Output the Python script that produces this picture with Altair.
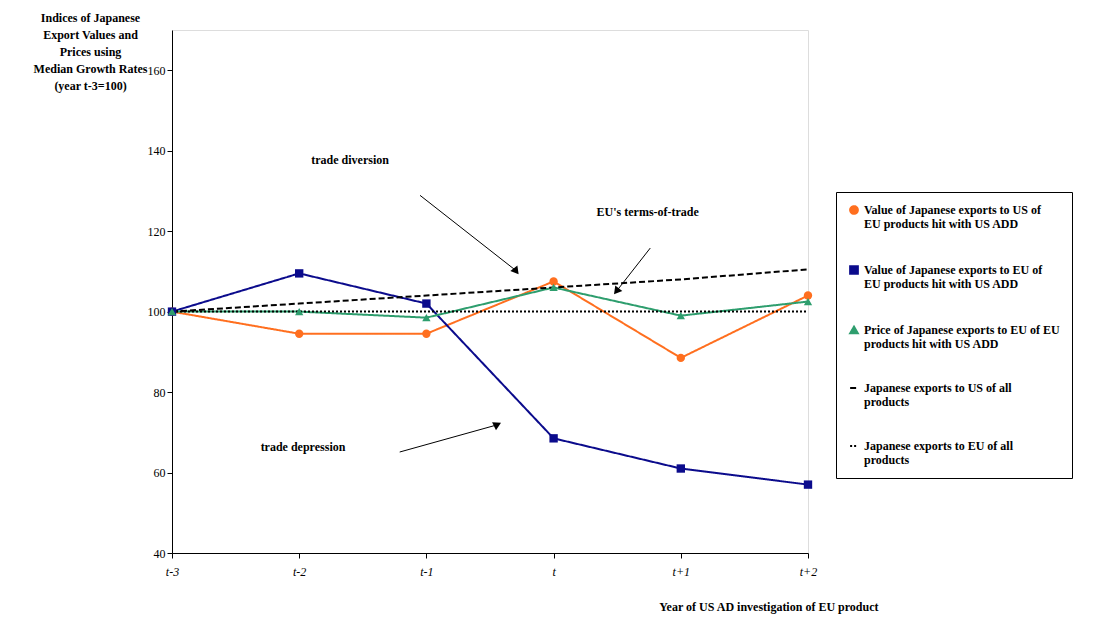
import altair as alt
import pandas as pd

PERIODS = ["t-3", "t-2", "t-1", "t", "t+1", "t+2"]
SERIES = [
    "Value of Japanese exports to US of|EU products hit with US ADD",
    "Value of Japanese exports to EU of|EU products hit with US ADD",
    "Price of Japanese exports to EU of EU|products hit with US ADD",
    "Japanese exports to US of all|products",
    "Japanese exports to EU of all|products",
]
VAL_US = [100, 94.5, 94.5, 107.5, 88.5, 104]
VAL_EU = [100, 109.5, 102, 68.5, 61, 57]
PRICE_EU = [100, 100, 98.5, 106, 99, 102.5]
ALL_US = [100, 102, 104, 106, 108, 110.5]
ALL_EU = [100, 100, 100, 100, 100, 100]
COLORS = ["#ff6f1f", "#0b0b8c", "#2e9e6e", "#000000", "#000000"]
SHAPES = ["circle", "square", "triangle-up", "stroke", "stroke"]
DASHES = [[1, 0], [1, 0], [1, 0], [6, 3], [2, 2]]

rows = []
for name, vals in zip(SERIES, [VAL_US, VAL_EU, PRICE_EU, ALL_US, ALL_EU]):
    for i, v in enumerate(vals):
        rows.append({"series": name, "i": i, "v": v})
df = pd.DataFrame(rows)

# annotations (data units)
notes = pd.DataFrame({
    "x": [1.40, 3.74, 1.03],
    "y": [137.6, 124.7, 66.3],
    "label": ["trade diversion", "EU's terms-of-trade", "trade depression"],
})
arrows = pd.DataFrame({
    "x": [1.95, 3.76, 1.79], "y": [128.9, 115.8, 65.1],
    "x2": [2.70, 3.50, 2.55], "y2": [110.3, 105.3, 71.8],
    "ang": [142, 218, 64],
})

FONT = "Liberation Serif"
xs = alt.Scale(domain=[0, 5], nice=False)
ys = alt.Scale(domain=[40, 170], nice=False)
col = alt.Color("series:N", scale=alt.Scale(domain=SERIES, range=COLORS),
                legend=alt.Legend(title=None, orient="none", legendX=664, legendY=162,
                                  labelExpr="split(datum.label, '|')",
                                  labelFont=FONT, labelFontSize=12, labelFontWeight="bold",
                                  labelLimit=300, symbolSize=60, symbolStrokeWidth=2,
                                  rowPadding=32, strokeColor="black", padding=12))

ax_common = dict(labelFont=FONT, labelFontSize=12, titleFont=FONT, titleFontSize=12,
                 titleFontWeight="bold", domainColor="black", tickColor="black",
                 labelColor="black", titleColor="black", grid=False, labelFlush=False)
x_enc = alt.X("i:Q", scale=xs, title="Year of US AD investigation of EU product",
              axis=alt.Axis(values=list(range(6)), labelExpr=str(PERIODS) + "[datum.value]",
                            labelFontStyle="italic", labelPadding=8,
                            titleAnchor="end", titleAlign="right", titleX=706, titleY=48,
                            **ax_common))
y_enc = alt.Y("v:Q", scale=ys, axis=alt.Axis(
    values=[40, 60, 80, 100, 120, 140, 160],
    title=["Indices of Japanese", "Export Values and", "Prices using",
           "Median Growth Rates", "(year t-3=100)"],
    titleAngle=0, titleAlign="center", titleBaseline="top", titleX=-82, titleY=-18,
    titleLineHeight=17, **ax_common))

lines = alt.Chart(df).mark_line(strokeWidth=2).encode(
    x=x_enc, y=y_enc, color=col,
    strokeDash=alt.StrokeDash("series:N", scale=alt.Scale(domain=SERIES, range=DASHES), legend=None),
    shape=alt.Shape("series:N", scale=alt.Scale(domain=SERIES, range=SHAPES), legend=None),
)
pts = alt.Chart(df[df.series.isin(SERIES[:3])]).mark_point(filled=True, size=70, opacity=1).encode(
    x="i:Q", y="v:Q", color=alt.Color("series:N", scale=alt.Scale(domain=SERIES, range=COLORS), legend=None),
    shape=alt.Shape("series:N", scale=alt.Scale(domain=SERIES, range=SHAPES), legend=None),
)
txt = alt.Chart(notes).mark_text(font=FONT, fontSize=12, fontWeight="bold").encode(
    x="x:Q", y="y:Q", text="label:N")
shafts = alt.Chart(arrows).mark_rule(color="black", strokeWidth=1).encode(
    x="x:Q", y="y:Q", x2="x2:Q", y2="y2:Q")
heads = alt.Chart(arrows).mark_point(shape="triangle", filled=True, color="black", size=80, opacity=1).encode(
    x="x2:Q", y="y2:Q", angle=alt.Angle("ang:Q", scale=None))

chart = alt.layer(lines, pts, shafts, heads, txt).properties(
    width=636, height=523, autosize=alt.AutoSizeParams(type="none"),
    padding={"left": 164, "top": 22, "right": 276, "bottom": 62}
).configure_view(stroke=None).configure(background="white")

chart.save("out.html", embed_options={"renderer": "svg", "actions": False})
